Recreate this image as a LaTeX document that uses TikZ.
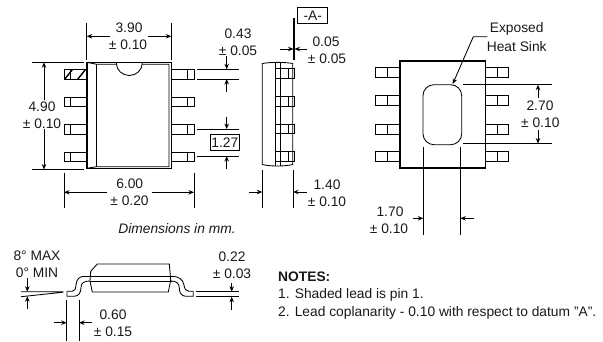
\documentclass[tikz,border=0pt]{standalone}
\usepackage{fontspec}
\setmainfont{Liberation Sans}
\usetikzlibrary{arrows.meta}
\tikzset{
  txt/.style={inner sep=0pt,font=\fontsize{13.8}{15}\selectfont,text=black!90},
  ln/.style={line width=0.85pt,black},
  thk/.style={line width=1.6pt,black},
  dim/.style={line width=0.85pt,black,-{Stealth[length=5.5pt,width=4.5pt]}},
}
\begin{document}
\begin{tikzpicture}[x=1pt,y=-1pt]
\useasboundingbox (0,0) rectangle (603,341);
% top view
\foreach \a/\b in {69.3/79,97/106.3,124.3/134,152/161.3}{
  \draw[ln] (86.7,\a) -- (64,\a) -- (64,\b) -- (86.7,\b);
  \draw[ln] (70.7,\a) -- (70.7,\b);
  \draw[ln] (171.3,\a) -- (194,\a) -- (194,\b) -- (171.3,\b);
  \draw[ln] (187.3,\a) -- (187.3,\b);
}
\begin{scope}
\clip (64,69.3) rectangle (86.7,79);
\foreach \s in {0,13,22}{\draw[line width=1.4pt] (64.5+\s,79.5) -- (73+\s,68.8);}
\end{scope}
\draw[thk] (86.7,62.3) rectangle (171.3,168.3);
\draw[ln] (86.7,62.3) -- (96.7,64.3) -- (169,64.3) -- (169,166.7) -- (96.7,166.7) -- (86.7,168.3);
\draw[ln] (96.7,64.3) -- (96.7,166.7);
\draw[ln,fill=white] (116.3,63) arc[start angle=180,end angle=0,x radius=13,y radius=12.5];
% dims top view
\draw[ln] (86.7,23) -- (86.7,60) (171.3,23) -- (171.3,60);
\draw[dim] (110,36.3) -- (86.7,36.3);
\draw[dim] (148,36.3) -- (171.3,36.3);
\node[txt] (a1) at (129,27.5) {3.90};
\node[txt] (a2) at (128,44.5) {± 0.10};
\draw[ln] (31.7,62.3) -- (84,62.3) (31.7,169.5) -- (84,169.5);
\draw[dim] (44,100) -- (44,62.3);
\draw[dim] (44,129) -- (44,169.5);
\node[txt] (b1) at (42,106.5) {4.90};
\node[txt] (b2) at (42,123.5) {± 0.10};
\draw[ln] (64,172.7) -- (64,208) (194,172.7) -- (194,208);
\draw[dim] (106.7,192.3) -- (64,192.3);
\draw[dim] (151.7,192.3) -- (194,192.3);
\node[txt] (c1) at (129.7,183.5) {6.00};
\node[txt] (c2) at (129.5,200.5) {± 0.20};
\draw[ln] (196.7,69.3) -- (239.3,69.3) (196.7,79) -- (239.3,79);
\draw[dim] (226.7,56) -- (226.7,69.3);
\draw[dim] (226.7,91.7) -- (226.7,79);
\node[txt] (d1) at (238,33.5) {0.43};
\node[txt] (d2) at (238,50.5) {± 0.05};
\draw[ln] (196.7,129) -- (239.3,129) (196.7,156) -- (239.3,156);
\draw[dim] (226.7,116.7) -- (226.7,129);
\draw[dim] (226.7,169) -- (226.7,156);
\node[txt,draw=black,line width=0.85pt,fill=white,minimum width=29pt,minimum height=16pt] (e) at (224.8,142.2) {1.27};
% side view
\draw[ln] (262.3,63.5) .. controls (270,62) and (285,62) .. (292.7,63.5) -- (292.7,164.5) .. controls (285,166.5) and (270,166.5) .. (262.3,164.5) -- cycle;
\draw[ln] (275,62.4) -- (275,166) (280,62.4) -- (280,166);
\foreach \a/\b in {68.8/78.5,96.5/106,124/133.5,151/161}{
  \draw[ln] (275,\a) -- (294,\a) -- (294,\b) -- (275,\b);
  \draw[ln] (288.3,\a) -- (288.3,\b);
}
\node[txt,draw=black,line width=0.85pt,minimum width=30pt,minimum height=16pt] (f) at (312.7,15.3) {-A-};
\draw[line width=1.1pt] (294,18.3) -- (294,60);
\draw[dim] (280,49) -- (293.5,49);
\draw[dim] (306.7,49) -- (294.5,49);
\node[txt] (g1) at (326,41.5) {0.05};
\node[txt] (g2) at (327,58.5) {± 0.05};
\draw[ln] (262.3,170) -- (262.3,208) (293,170) -- (293,208);
\draw[dim] (249,192) -- (262.3,192);
\draw[dim] (306.7,192) -- (293,192);
\node[txt] (h1) at (327,184.5) {1.40};
\node[txt] (h2) at (327,201.5) {± 0.10};
\node[txt] (i) at (177,228.5) {\itshape Dimensions in mm.};
% right view
\foreach \a/\b in {67.3/77.3,95.7/105.7,124/134,151.7/161.7}{
  \draw[ln] (400,\a) -- (375.7,\a) -- (375.7,\b) -- (400,\b);
  \draw[ln] (387,\a) -- (387,\b);
  \draw[ln] (485.3,\a) -- (508.7,\a) -- (508.7,\b) -- (485.3,\b);
  \draw[ln] (497,\a) -- (497,\b);
}
\draw[thk] (400,61) rectangle (485.3,167.7);
\draw[ln,rounded corners=11pt] (423,84.7) rectangle (461.7,144.7);
\draw[ln] (463.3,84.7) -- (551.7,84.7) (463.3,143.5) -- (551.7,143.5);
\draw[dim] (538,98) -- (538,84.7);
\draw[dim] (538,130) -- (538,143.5);
\node[txt] (j1) at (540,105.5) {2.70};
\node[txt] (j2) at (540.3,122.5) {± 0.10};
\draw[ln] (423.3,146.7) -- (423.3,235) (460.3,146.7) -- (460.3,235);
\draw[dim] (413,218.3) -- (423.3,218.3);
\draw[dim] (474,218.3) -- (460.3,218.3);
\node[txt] (k1) at (390,211.5) {1.70};
\node[txt] (k2) at (389,228.5) {± 0.10};
\node[txt] (l1) at (516.7,28.5) {Exposed};
\node[txt] (l2) at (516.7,46.5) {Heat Sink};
\coordinate (lp) at (487.3,36.7);
\draw[dim] (lp) -- (473.3,36.7) -- (452.7,84);
% section view
\draw[ln] (90.7,271.3) -- (97.3,264) -- (169.3,264) -- (170.7,280) -- (168.3,292) -- (92.3,292) -- (90,281) -- cycle;
\draw[ln] (85,276.3) -- (172,276.3);
\draw[ln] (90,281) -- (172,281);
\draw[ln] (67,291.3) -- (72,291.3) .. controls (75,291.3) and (75.5,289) .. (76,285) .. controls (76.7,279) and (79,276.3) .. (85,276.3);
\draw[ln] (67,291.3) -- (67,296.3) -- (74,296.3) .. controls (79,296.3) and (81,292) .. (81,287.5) .. controls (81,283) and (84,281) .. (90,281);
\draw[ln] (193.3,291.3) -- (189,291.3) .. controls (186,291.3) and (184.6,289) .. (184,285) .. controls (183,279) and (178,276.3) .. (172,276.3);
\draw[ln] (193.3,291.3) -- (193.3,296.3) -- (186,296.3) .. controls (181,296.3) and (179.3,292) .. (179.3,288) .. controls (179.3,283) and (176,281) .. (170.7,281);
\node[txt] (m1) at (37,256) {8° MAX};
\node[txt] (m2) at (37,273) {0° MIN};
\draw[ln] (21,291.7) -- (63.3,291.7) (21,296.7) -- (63.3,292.2);
\draw[dim] (27.3,278) -- (27.3,291.7);
\draw[dim] (27.3,309) -- (27.3,296.2);
\draw[ln] (196,291.7) -- (239,291.7) (196,296.7) -- (239,296.7);
\draw[dim] (231.7,283) -- (231.7,291.7);
\draw[dim] (231.7,310) -- (231.7,296.7);
\node[txt] (n1) at (232,256.5) {0.22};
\node[txt] (n2) at (232,273.5) {± 0.03};
\draw[ln] (66.7,300) -- (66.7,341) (79,300) -- (79,341);
\draw[dim] (54.3,322.7) -- (66.7,322.7);
\draw[dim] (92.3,322.7) -- (79,322.7);
\node[txt] (o1) at (113,315) {0.60};
\node[txt] (o2) at (113,332) {± 0.15};
\node[txt,anchor=west] (p1) at (278,277) {\bfseries NOTES:};
\node[txt,anchor=west] (p2) at (278,295) {1. Shaded lead is pin 1.};
\node[txt,anchor=west] (p3) at (278,312.5) {2. Lead coplanarity - 0.10 with respect to datum "A".};
\end{tikzpicture}
\end{document}
